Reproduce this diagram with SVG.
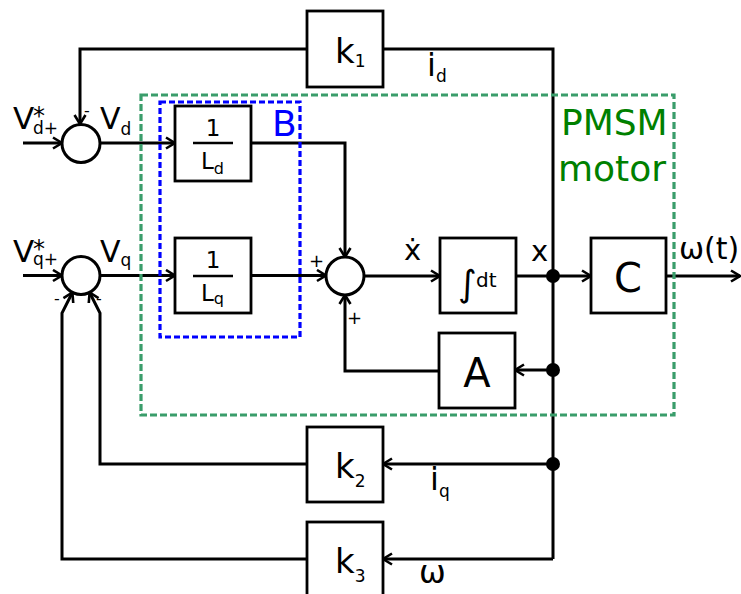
<svg xmlns="http://www.w3.org/2000/svg" width="741" height="594" viewBox="0 0 741 594">
<defs>
<marker id="arr" viewBox="-12 -7 14 14" refX="0" refY="0" markerWidth="14" markerHeight="14" markerUnits="userSpaceOnUse" orient="auto">
<path d="M-9,-5.5 L0,0 L-9,5.5" fill="none" stroke="#000" stroke-width="2.6"/>
</marker>
</defs>
<style>
text{font-family:"DejaVu Sans","Noto Sans",sans-serif;fill:#000}
.box{fill:#fff;stroke:#000;stroke-width:2.8}
.sum{fill:#fff;stroke:#000;stroke-width:3}
.ln{fill:none;stroke:#000;stroke-width:3}
.ar{marker-end:url(#arr)}
.dot{fill:#000}
.green{fill:none;stroke:#3a9d6b;stroke-width:3.2;stroke-dasharray:7 3}
.blue{fill:none;stroke:#0000ff;stroke-width:3.2;stroke-dasharray:6 3}
.bar{stroke:#000;stroke-width:2.6}
</style>
<rect width="741" height="594" fill="#fff"/>

<g id="connectors">
<path class="ln" d="M383,49 H553 V559"/>
<path class="ln ar" d="M553,559 H383"/>
<path class="ln ar" d="M307,49 H80 V124"/>
<path class="ln ar" d="M23,143 H62"/>
<path class="ln ar" d="M100,143 H175"/>
<path class="ln ar" d="M23,275.5 H62"/>
<path class="ln ar" d="M100,275.5 H175"/>
<path class="ln ar" d="M251,143 H345 V257"/>
<path class="ln ar" d="M251,275.5 H326"/>
<path class="ln ar" d="M364,276 H440"/>
<path class="ln ar" d="M516,276 H591"/>
<path class="ln ar" d="M666,276 H740"/>
<path class="ln ar" d="M553,370 H515"/>
<path class="ln ar" d="M439,371 H345 V295"/>
<path class="ln ar" d="M553,464 H383"/>
<path class="ln ar" d="M307,464 H100 V313 L89.6,292.5"/>
<path class="ln ar" d="M307,559 H62 V313 L72.4,292.5"/>
<circle class="dot" cx="553" cy="276" r="7"/>
<circle class="dot" cx="553" cy="370" r="7"/>
<circle class="dot" cx="553" cy="464" r="7"/>
</g>

<g id="pmsm-frame">
<rect class="green" x="141" y="95" width="533" height="320"/>
<text x="561" y="135" font-size="36" style="fill:#008000">PMSM</text>
<text x="558" y="181" font-size="36" style="fill:#008000">motor</text>
</g>

<g id="B-frame">
<rect class="blue" x="160" y="102" width="140" height="235"/>
<text x="272" y="136" font-size="36" style="fill:#0000ff">B</text>
</g>

<g id="sum-d">
<circle class="sum" cx="81" cy="143.5" r="19"/>
<text x="84" y="116" font-size="16">-</text>
</g>
<g id="sum-q">
<circle class="sum" cx="81" cy="275.5" r="19"/>
<text x="54" y="304" font-size="16">-</text>
<text x="96" y="304" font-size="16">-</text>
</g>
<g id="sum-x">
<circle class="sum" cx="345" cy="276" r="19"/>
<text x="309" y="267" font-size="18">+</text>
<text x="347" y="324" font-size="18">+</text>
</g>

<g id="box-Ld">
<rect class="box" x="175" y="106" width="76" height="75"/>
<text x="213" y="136" font-size="23" text-anchor="middle">1</text>
<line class="bar" x1="193" y1="143" x2="233" y2="143"/>
<text x="201" y="169" font-size="23">L<tspan font-size="16" dy="5">d</tspan></text>
</g>
<g id="box-Lq">
<rect class="box" x="175" y="238" width="76" height="75"/>
<text x="213" y="268" font-size="23" text-anchor="middle">1</text>
<line class="bar" x1="193" y1="276" x2="233" y2="276"/>
<text x="201" y="301" font-size="23">L<tspan font-size="16" dy="3">q</tspan></text>
</g>

<g id="box-int">
<rect class="box" x="440" y="238" width="76" height="75"/>
<text x="458" y="296" font-size="36">∫<tspan x="476" dy="-9" font-size="20">dt</tspan></text>
</g>
<g id="box-C">
<rect class="box" x="591" y="238" width="75" height="75"/>
<text x="628" y="292" font-size="40" text-anchor="middle">C</text>
</g>
<g id="box-A">
<rect class="box" x="439" y="333" width="76" height="75"/>
<text x="477" y="387" font-size="40" text-anchor="middle">A</text>
</g>
<g id="box-k1">
<rect class="box" x="307" y="11" width="76" height="76"/>
<text x="335" y="63" font-size="34">k<tspan font-size="17" dy="4">1</tspan></text>
</g>
<g id="box-k2">
<rect class="box" x="307" y="427" width="76" height="75"/>
<text x="335" y="478" font-size="34">k<tspan font-size="17" dy="9">2</tspan></text>
</g>
<g id="box-k3">
<rect class="box" x="307" y="522" width="76" height="76"/>
<text x="335" y="573" font-size="34">k<tspan font-size="17" dy="9">3</tspan></text>
</g>

<g id="labels">
<text x="13" y="129" font-size="31">V<tspan x="33" y="124" font-size="24">*</tspan><tspan x="33" y="134" font-size="17">d+</tspan></text>
<text x="100" y="129" font-size="30">V<tspan font-size="17" dy="6">d</tspan></text>
<text x="13" y="262" font-size="31">V<tspan x="33" y="257" font-size="24">*</tspan><tspan x="33" y="265" font-size="17">q+</tspan></text>
<text x="100" y="262" font-size="30">V<tspan font-size="17" dy="4">q</tspan></text>
<text x="404" y="260" font-size="29">ẋ</text>
<text x="531" y="261" font-size="29">x</text>
<text x="679" y="259" font-size="30">ω(t)</text>
<text x="427" y="76" font-size="32">i<tspan font-size="17" dy="6">d</tspan></text>
<text x="430" y="490" font-size="32">i<tspan font-size="17" dy="7">q</tspan></text>
<text x="419" y="583" font-size="32">ω</text>
</g>
</svg>
